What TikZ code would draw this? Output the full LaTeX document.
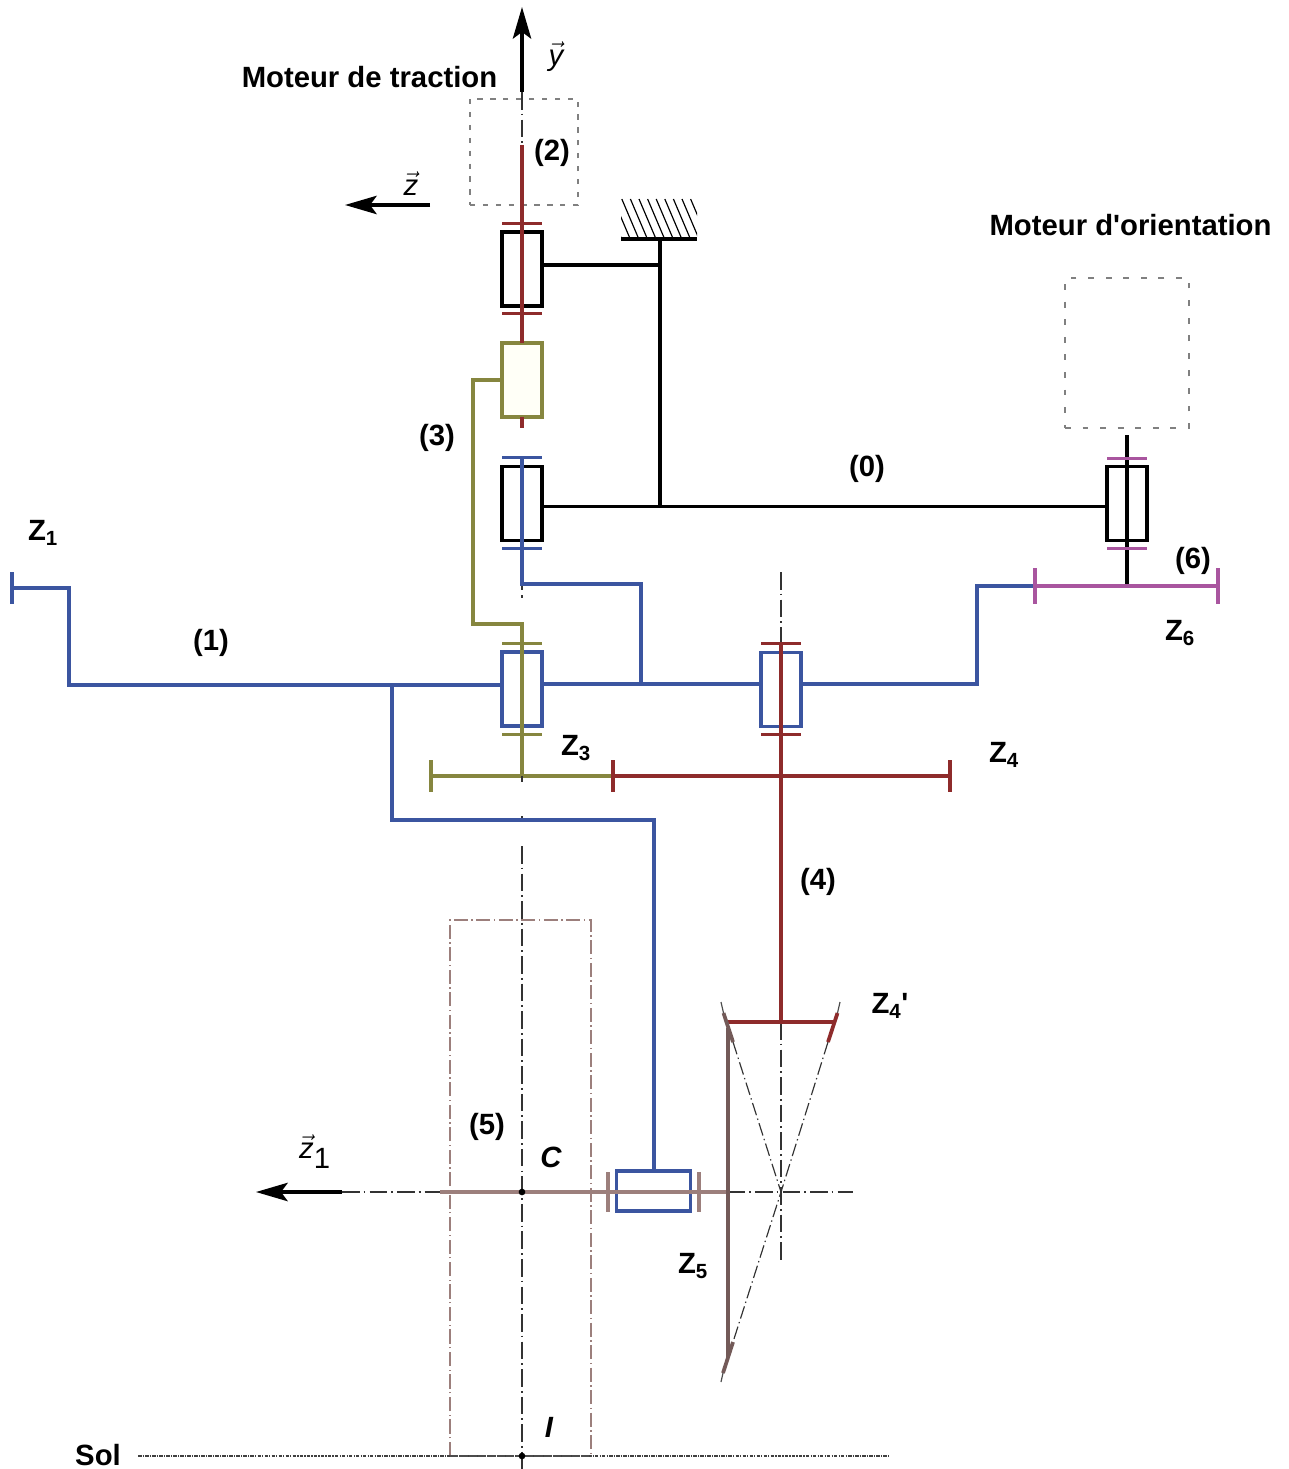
\documentclass[tikz,border=0pt]{standalone}
\usepackage{fontspec}
\setmainfont{Liberation Sans}
\usetikzlibrary{arrows.meta}

\definecolor{rouge}{HTML}{8E2B2B}
\definecolor{bleu}{HTML}{3B55A0}
\definecolor{olive}{HTML}{86863F}
\definecolor{rose}{HTML}{A9559F}
\definecolor{brun}{HTML}{735A58}
\definecolor{brunclair}{HTML}{9C7F7C}

\tikzset{
  trait/.style={line width=2.6pt, line join=miter},
  palier/.style={draw, fill=white, line width=2.8pt, minimum width=1.2cm, minimum height=2.22cm, inner sep=0pt},
  palierH/.style={draw, fill=white, line width=2.8pt, minimum width=2.22cm, minimum height=1.2cm, inner sep=0pt},
  dentH/.style={minimum width=1.2cm, minimum height=0.09cm, inner sep=0pt},
  dentV/.style={minimum width=0.1cm, minimum height=0.97cm, inner sep=0pt},
  dentVb/.style={minimum width=0.1cm, minimum height=1.2cm, inner sep=0pt},
  axe/.style={line width=1.4pt, black!80, dash pattern=on 15pt off 3.5pt on 1.5pt off 3.5pt},
  axefin/.style={line width=1pt, black!80, dash pattern=on 11pt off 3pt on 1.2pt off 3pt},
  sol/.style={line width=1pt, black!75, dash pattern=on 3pt off 1pt on 1pt off 1pt},
  roue/.style={line width=1.1pt, brunclair, dash pattern=on 12pt off 3pt on 1.2pt off 3pt},
  moteur/.style={draw=black!50, line width=1pt, inner sep=0pt},
  fleche/.style={line width=3pt, -{Stealth[length=0.95cm, width=0.55cm, inset=0.2cm]}},
  etiq/.style={font=\fontsize{25}{28}\selectfont\bfseries, inner sep=0pt},
  vect/.style={font=\fontsize{25}{28}\selectfont, inner sep=0pt},
  point/.style={circle, fill=black, minimum size=0.2cm, inner sep=0pt},
}

\begin{document}
\begin{tikzpicture}[x=0.03cm, y=-0.03cm]
  \useasboundingbox (0,0) rectangle (1288,1469);

  % moteurs et roue
  \node[moteur, dash pattern=on 4.5pt off 6.5pt, minimum width=3.24cm, minimum height=3.18cm] (mtraction) at (524,152) {};
  \node[moteur, dash pattern=on 5pt off 10pt, minimum width=3.72cm, minimum height=4.5cm] (morient) at (1127,353) {};
  \draw[roue] (450,1456) coordinate (rbg) -- (450,920) coordinate (rhg) -- (591,920) coordinate (rhd) -- (591,1456) coordinate (rbd);

  % axes
  \coordinate (ytop) at (522,92);
  \coordinate (ybas) at (522,145);
  \coordinate (vtop) at (522,846);
  \coordinate (vbas) at (522,1469);
  \coordinate (zg) at (342,1192);
  \coordinate (zd) at (853,1192);
  \coordinate (atop) at (781,572);
  \coordinate (acen) at (781,643);
  \coordinate (ah) at (781,1022);
  \coordinate (ab) at (781,1262);
  \coordinate (apex) at (781,1192);
  \coordinate (ctg) at (733,1042);
  \coordinate (ctd) at (828,1042);
  \coordinate (cbg) at (733,1342);
  \coordinate (solg) at (138,1456);
  \coordinate (sold) at (890,1456);
  \draw[axe] (ytop) -- (ybas);
  \draw[axe] (vtop) -- (vbas);
  \draw[axe] (zg) -- (zd);
  \draw[axe] (atop) -- (acen);
  \draw[axe] (ah) -- (ab);
  \draw[axefin] (ctg) -- (apex);
  \draw[axefin] (ctd) -- (apex) -- (cbg);
  \draw[sol] (solg) -- (sold);
  \draw[line width=1.6pt, black!70, dash pattern=on 7pt off 1pt] (rbg) -- (rbd);

  % fleches
  \coordinate (yfin) at (522,7);
  \coordinate (zdeb) at (430,205);
  \coordinate (zfin) at (345,205);
  \coordinate (zun) at (256,1192);
  \draw[fleche] (ytop) -- (yfin);
  \draw[fleche] (zdeb) -- (zfin);
  \draw[fleche] (zg) -- (zun);

  % paliers
  \node[palier] (p2) at (522,269) {};
  \node[palier, draw=olive, fill=yellow!3] (p3) at (522,380) {};
  \node[palier] (p1) at (522,503.5) {};
  \node[palier] (p6) at (1127,503.5) {};
  \node[palier, draw=bleu] (p13) at (522,689) {};
  \node[palier, draw=bleu] (p14) at (781,689.5) {};
  \node[palierH, draw=bleu] (p15) at (653.5,1191) {};

  % bati
  \begin{scope}
    \clip (621,199) rectangle (697,239);
    \foreach \i in {0,...,12}
      \draw[line width=1pt] (596+8.6*\i,199) -- (613+8.6*\i,239);
  \end{scope}
  \coordinate (bg) at (621,239);
  \coordinate (bd) at (697,239);
  \coordinate (bm) at (660,239);
  \coordinate (bh) at (660,265);
  \coordinate (bb) at (660,506.5);
  \draw[trait] (bg) -- (bd);
  \draw[trait] (bm) -- (bb);
  \draw[trait] (p2.east |- bh) -- (bh);
  \draw[trait] (p1.east |- bb) -- (p6.west |- bb);

  % arbre 2
  \coordinate (r2a) at (522,145);
  \coordinate (r2b) at (522,343);
  \coordinate (r2c) at (522,417);
  \coordinate (r2d) at (522,428);
  \draw[trait, rouge] (r2a) -- (r2b);
  \draw[trait, rouge] (r2c) -- (r2d);
  \node[dentH, fill=rouge] (d2a) at (522,223.5) {};
  \node[dentH, fill=rouge] (d2b) at (522,314) {};

  % piece 3
  \coordinate (o1) at (473,380);
  \coordinate (o2) at (473,624);
  \coordinate (o3) at (522,624);
  \coordinate (o4) at (522,776);
  \coordinate (o5) at (522,782);
  \coordinate (zg3) at (431,776);
  \coordinate (zd3) at (613,776);
  \draw[trait, olive] (p3.west |- o1) -- (o1) -- (o2) -- (o3) -- (o4);
  \draw[trait, olive] (zg3) -- (zd3);
  \node[dentH, fill=olive] (d3a) at (522,643.5) {};
  \node[dentH, fill=olive] (d3b) at (522,734) {};
  \node[dentV, fill=olive] (c3) at (zg3) {};
  \draw[line width=2pt, black!80] (o4) -- (o5);

  % piece 1
  \coordinate (b1) at (522,457);
  \coordinate (b2) at (522,584);
  \coordinate (b3) at (641,584);
  \coordinate (b4) at (641,684);
  \coordinate (g1) at (12,588);
  \coordinate (g2) at (69,588);
  \coordinate (g3) at (69,685);
  \coordinate (g4) at (392,685);
  \coordinate (g5) at (392,820);
  \coordinate (g6) at (654,820);
  \coordinate (d1) at (977,684);
  \coordinate (d2) at (977,586);
  \coordinate (d3) at (1035,586);
  \coordinate (xa) at (522,590);
  \coordinate (xb) at (522,595);
  \coordinate (xc) at (522,598);
  \coordinate (xd) at (522,816);
  \draw[line width=1.6pt, black!80] (b2) -- (xa);
  \draw[line width=1.6pt, black!80] (xb) -- (xc);
  \draw[line width=2pt, black!80] (xd) -- (g5 -| xd);
  \draw[trait, bleu] (b1) -- (b2) -- (b3) -- (b4);
  \draw[trait, bleu] (g1) -- (g2) -- (g3) -- (p13.west |- g3);
  \draw[trait, bleu] (p13.east |- b4) -- (p14.west |- b4);
  \draw[trait, bleu] (p14.east |- d1) -- (d1) -- (d2) -- (d3);
  \draw[trait, bleu] (g4) -- (g5) -- (g6) -- (p15.north -| g6);
  \node[dentH, fill=bleu] (d1a) at (522,457.5) {};
  \node[dentH, fill=bleu] (d1b) at (522,548) {};
  \node[dentV, fill=bleu] (c1) at (g1) {};

  % piece 4
  \coordinate (r4a) at (781,643);
  \coordinate (r4b) at (781,1022);
  \coordinate (zd4) at (950,776);
  \coordinate (zpg) at (727,1022);
  \coordinate (zpd) at (835,1022);
  \coordinate (tg1) at (723.5,1013);
  \coordinate (td1) at (837.5,1013);
  \coordinate (tgf) at (721,1002);
  \coordinate (tdf) at (840,1002);
  \draw[trait, rouge] (r4a) -- (r4b);
  \draw[trait, rouge] (zd3) -- (zd4);
  \draw[trait, rouge] (zpg) -- (zpd);
  \draw[line width=3.2pt, rouge] (td1) -- (ctd);
  \draw[line width=1pt, black!70] (td1) -- (tdf);
  \node[dentH, fill=rouge] (d4a) at (781,643.5) {};
  \node[dentH, fill=rouge] (d4b) at (781,734) {};
  \node[dentV, fill=rouge] (c4a) at (zd3) {};
  \node[dentV, fill=rouge] (c4b) at (zd4) {};

  % piece 5
  \coordinate (h1) at (440,1192);
  \coordinate (h2) at (728,1192);
  \coordinate (v1) at (728,1028);
  \coordinate (v2) at (728,1358);
  \coordinate (tg2) at (723,1373);
  \coordinate (tg3) at (721,1382);
  \draw[line width=2.8pt, brunclair] (h1) -- (h2);
  \draw[line width=3pt, brun] (v1) -- (v2);
  \draw[line width=3.2pt, brun] (tg1) -- (ctg);
  \draw[line width=1pt, black!70] (tg1) -- (tgf);
  \draw[line width=3.2pt, brun] (cbg) -- (tg2);
  \draw[line width=1pt, black!70] (tg2) -- (tg3);
  \node[dentVb, fill=brunclair] (c5a) at (608,1192) {};
  \node[dentVb, fill=brunclair] (c5b) at (699,1192) {};

  % piece 6
  \coordinate (n1) at (1127,435);
  \coordinate (n2) at (1127,586);
  \coordinate (zd6) at (1218,586);
  \draw[trait] (n1) -- (n2);
  \draw[trait, rose] (d3) -- (zd6);
  \node[dentH, fill=rose] (d6a) at (1127,458.5) {};
  \node[dentH, fill=rose] (d6b) at (1127,548) {};
  \node[dentVb, minimum height=1.1cm, fill=rose] (c6a) at (d3) {};
  \node[dentVb, minimum height=1.1cm, fill=rose] (c6b) at (zd6) {};

  % points
  \node[point] (C) at (522,1192) {};
  \node[point] (I) at (522,1456) {};

  % textes
  \node[etiq] (tm1) at (369.5,77) {Moteur de traction};
  \node[etiq] (tm2) at (1130.5,225) {Moteur d\textquotesingle orientation};
  \node[etiq] (t2) at (552,153) {(2)};
  \node[etiq] (t3) at (437,438) {(3)};
  \node[etiq] (t0) at (867,469) {(0)};
  \node[etiq] (t6) at (1193,561) {(6)};
  \node[etiq] (t1) at (211,643) {(1)};
  \node[etiq] (t4) at (818,882) {(4)};
  \node[etiq] (t5) at (487,1127) {(5)};
  \node[etiq] (tz1) at (43,533) {Z\textsubscript{1}};
  \node[etiq] (tz3) at (576,748) {Z\textsubscript{3}};
  \node[etiq] (tz4) at (1004,755) {Z\textsubscript{4}};
  \node[etiq] (tz4p) at (890,1006) {Z\textsubscript{4}\textquotesingle};
  \node[etiq] (tz5) at (693,1266) {Z\textsubscript{5}};
  \node[etiq] (tz6) at (1180,633) {Z\textsubscript{6}};
  \node[etiq] (tC) at (551,1157) {\itshape C};
  \node[etiq] (tI) at (549,1427) {\itshape I};
  \node[etiq] (tsol) at (98,1455) {Sol};
  \node[vect] (ty) at (556,57) {$\vec{\textit{y}}$};
  \node[vect] (tz) at (411,184) {$\vec{\textit{z}}$};
  \node[vect] (tzu) at (315,1152) {$\vec{\textit{z}}_{\textrm{1}}$};
\end{tikzpicture}
\end{document}
